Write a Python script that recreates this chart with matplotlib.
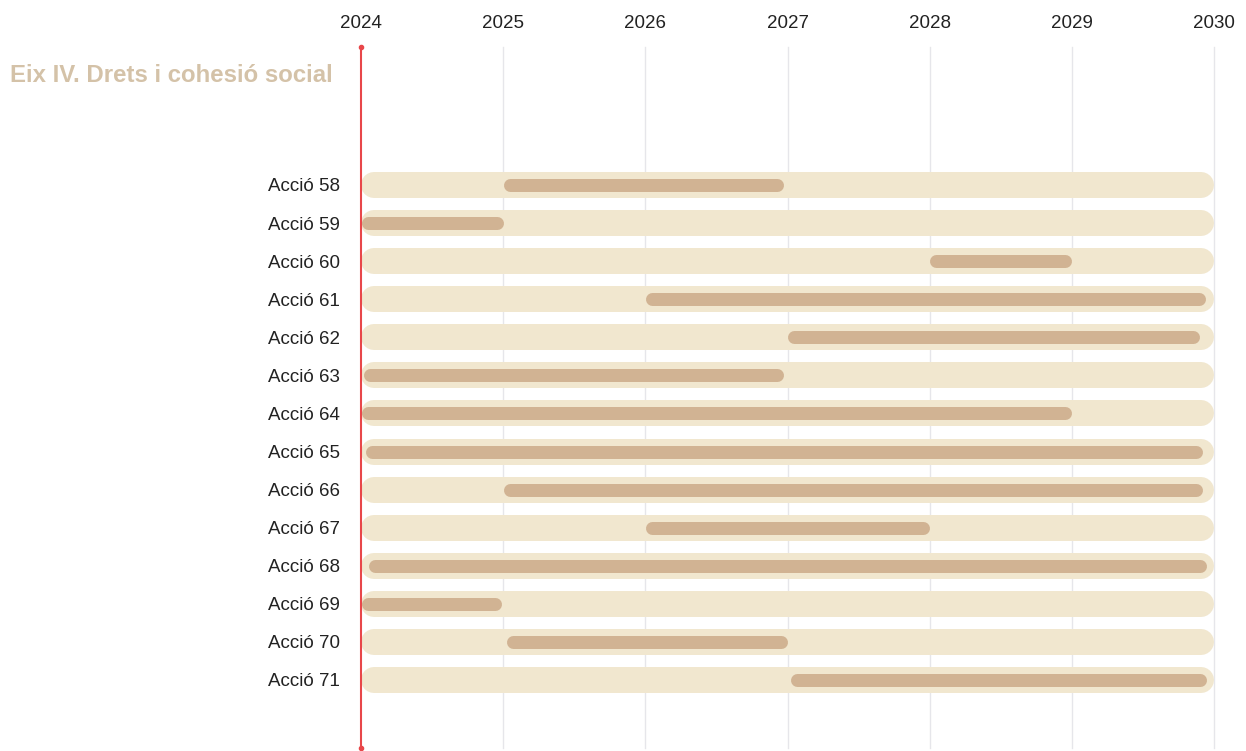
import matplotlib
matplotlib.use("Agg")
import matplotlib.pyplot as plt

# ---- data ----
actions = ["Acció 58", "Acció 59", "Acció 60", "Acció 61", "Acció 62", "Acció 63", "Acció 64",
           "Acció 65", "Acció 66", "Acció 67", "Acció 68", "Acció 69", "Acció 70", "Acció 71"]
starts = [2025.0, 2024.0, 2028.0, 2026.0, 2027.0, 2024.02, 2024.0,
          2024.03, 2025.0, 2026.0, 2024.05, 2024.0, 2025.02, 2027.02]
ends = [2026.97, 2025.0, 2029.0, 2029.94, 2029.9, 2026.97, 2029.0,
        2029.92, 2029.92, 2028.0, 2029.95, 2024.99, 2027.0, 2029.95]
years = [2024, 2025, 2026, 2027, 2028, 2029, 2030]
title = "Eix IV. Drets i cohesió social"

W, H = 1246, 751
fig = plt.figure(figsize=(W / 100, H / 100), dpi=100)
plt.rcParams['font.family'] = ['Liberation Sans', 'DejaVu Sans']

x0, x1 = 361, 1214
y_top, y_bot = 47, 748
ax = fig.add_axes([x0 / W, 1 - y_bot / H, (x1 - x0) / W, (y_bot - y_top) / H])

row_h = (680 - 185) / 13.0
ax.set_xlim(years[0], years[-1])
ax.set_ylim(13 + (y_bot - 680) / row_h, -(185 - y_top) / row_h)

px_per_year = (x1 - x0) / (years[-1] - years[0])
track_px, bar_px = 26, 13
track_lw = track_px * 0.72
bar_lw = bar_px * 0.72
r_track = (track_px / 2) / px_per_year
r_bar = (bar_px / 2) / px_per_year

track_col = "#f1e7cf"
bar_col = "#d1b393"

for y in years[1:]:
    ax.axvline(y, color="#e6e6ea", lw=1, zorder=0, clip_on=False)

for i, (s, e) in enumerate(zip(starts, ends)):
    ax.plot([years[0] + r_track, years[-1] - r_track], [i, i], color=track_col, lw=track_lw,
            solid_capstyle="round", zorder=1, clip_on=False)
    ax.plot([s + r_bar, e - r_bar], [i, i], color=bar_col, lw=bar_lw,
            solid_capstyle="round", zorder=2, clip_on=False)

ylo, yhi = ax.get_ylim()
ax.plot([years[0], years[0]], [ylo, yhi], color="#e8474a", lw=1.5, zorder=3, clip_on=False)
ax.plot([years[0], years[0]], [ylo, yhi], 'o', color="#e8474a", ms=3, zorder=3, clip_on=False)

ax.set_yticks(range(len(actions)))
ax.set_yticklabels(actions, fontsize=13.5, color="#222222")
ax.tick_params(axis="y", length=0, pad=15)
ax.xaxis.tick_top()
ax.set_xticks(years)
ax.set_xticklabels([str(y) for y in years], fontsize=13.5, color="#222222")
ax.tick_params(axis="x", length=0, pad=11)
for sp in ax.spines.values():
    sp.set_visible(False)

fig.text(10 / W, 1 - 75 / H, title, fontsize=17.3, fontweight="bold", color="#d4c2a8",
         ha="left", va="center")

fig.savefig("out.png", dpi=100, facecolor="white")
